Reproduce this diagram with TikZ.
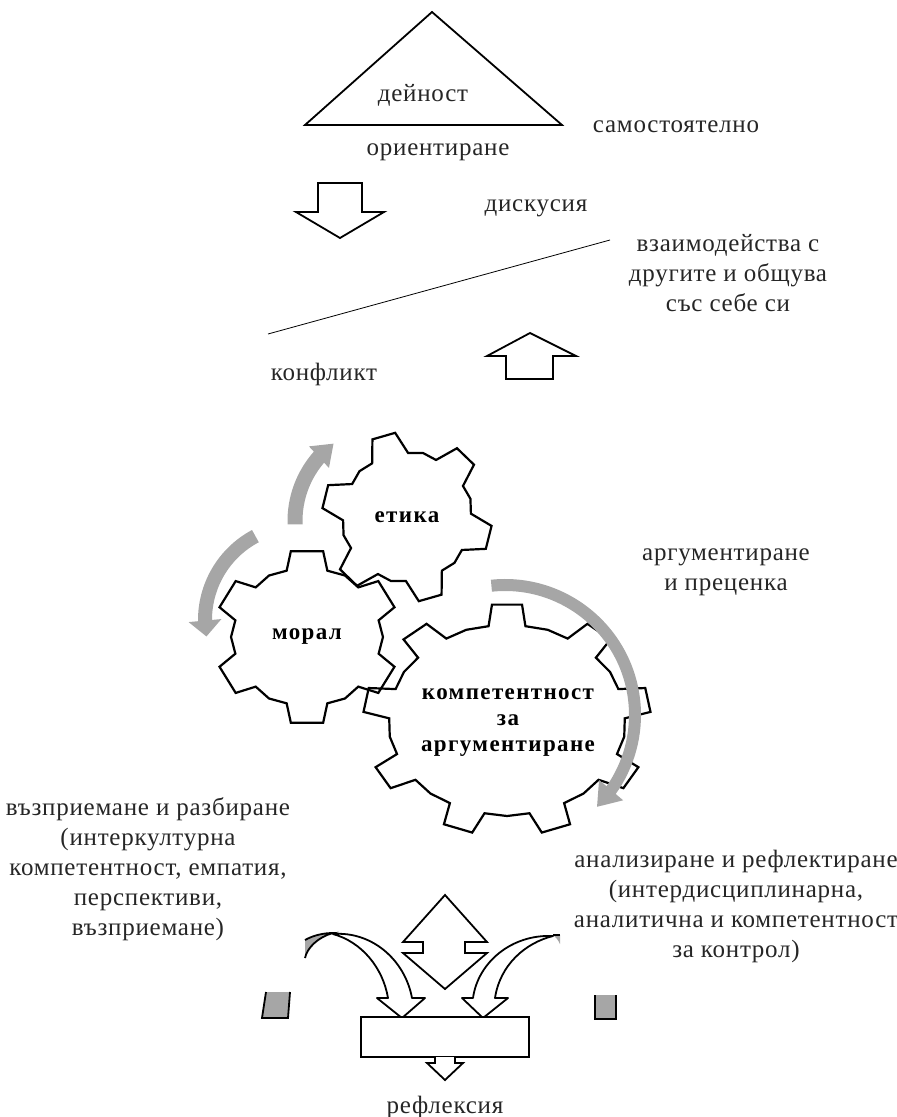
\documentclass[tikz,border=0pt]{standalone}
\usepackage{fontspec}
\setmainfont{Liberation Serif}
\usetikzlibrary{arrows.meta,bending}
\definecolor{arrgray}{HTML}{A6A6A6}
\definecolor{txtc}{HTML}{262626}
\begin{document}
\begin{tikzpicture}[x=1pt,y=-1pt,
  txt/.style={font=\fontsize{25}{30}\selectfont\addfontfeatures{LetterSpace=3}, text=txtc, inner sep=0pt, align=center},
  btxt/.style={font=\fontsize{23}{26}\selectfont\bfseries\addfontfeatures{LetterSpace=6}, text=black, inner sep=0pt, align=center},
  outl/.style={draw=black, line width=1.8pt, line join=miter, fill=white},
  gearline/.style={draw=black, line width=2.2pt, line join=miter},
  grayarr/.style={draw=arrgray, line width=#1},
  grayfill/.style={fill=arrgray, draw=black, line width=1.8pt}
]
\useasboundingbox (0,0) rectangle (897,1117);

% triangle
\draw[outl] (432,12) -- (562,125) -- (305,125) -- cycle;
\node[txt] (deinost) at (423,95) {дейност};
\node[txt] (orient) at (438,152) {ориентиране};
\node[txt] (samost) at (676,127) {самостоятелно};

% down arrow
\draw[outl] (318,183) -- (362,183) -- (362,212) -- (384,212) -- (340,238) -- (296,212) -- (318,212) -- cycle;
\node[txt] (disk) at (536,208) {дискусия};

% diagonal line
\coordinate (dl1) at (268,334);
\coordinate (dl2) at (610,240);
\draw[line width=0.8pt] (dl1) -- (dl2);
\node[txt] (vzaim) at (728,273) {взаимодейства с\\другите и общува\\със себе си};

% up arrow
\draw[outl] (506,379) -- (553,379) -- (553,356) -- (576,356) -- (530,333) -- (487,356) -- (506,356) -- cycle;
\node[txt] (konfl) at (324,374) {конфликт};

% gears
\draw[gearline, shift={(407,517)}] ({-14-17}:64pt)
  \foreach \k in {0,...,5} { -- ({-14+\k*60-17}:64pt) -- ({-14+\k*60-8}:85pt) -- ({-14+\k*60+8}:85pt) -- ({-14+\k*60+17}:64pt) -- ({-14+\k*60+30}:66pt) } -- cycle;
\draw[gearline, shift={(307,637)}, xscale=1.07] ({30-16}:69pt)
  \foreach \k in {0,...,5} { -- ({30+\k*60-16}:69pt) -- ({30+\k*60-10}:87pt) -- ({30+\k*60+10}:87pt) -- ({30+\k*60+16}:69pt) -- ({30+\k*60+30}:71pt) } -- cycle;
\draw[gearline, shift={(507,720)}, xscale=1.24] ({10-9}:95pt)
  \foreach \k in {0,...,8} { -- ({10+\k*40-9}:95pt) -- ({10+\k*40-6}:116pt) -- ({10+\k*40+6}:116pt) -- ({10+\k*40+9}:95pt) -- ({10+\k*40+20}:96pt) } -- cycle;

\node[btxt] (etika) at (407,517) {етика};
\node[btxt] (moral) at (307,637) {морал};
\node[btxt] (komp) at (508,723) {компетентност\\за\\аргументиране};

% gray circular arrows
\draw[grayarr=15pt, -{Triangle[length=20pt,width=28pt]}] ([shift={(182:97pt)}]392,521) arc[start angle=182, end angle=127, radius=97pt];
\draw[grayarr=14pt, -{Triangle[length=16pt,width=32pt]}] ([shift={(118:95pt)}]300,620) arc[start angle=118, end angle=190, radius=95pt];
\draw[grayarr=12pt, -{Triangle[length=22pt,width=30pt]}] ([shift={(96:130pt)}]505,715) arc[start angle=96, end angle=-45, radius=130pt];

\node[txt] (argum) at (726,572) {аргументиране\\и преценка};
\node[txt] (vazpr) at (148,869) {възприемане и разбиране\\(интеркултурна\\компетентност, емпатия,\\перспективи,\\възприемане)};
\node[txt] (anal) at (736,906) {анализиране и рефлектиране\\(интердисциплинарна,\\аналитична и компетентност\\за контрол)};

% bottom double arrow
\draw[outl] (445,895) -- (487,942) -- (465,942) -- (465,953) -- (487,953) -- (445,989) -- (403,953) -- (423,953) -- (423,942) -- (403,942) -- cycle;

% left curved arrow
\draw[outl, line join=round] (412,998) -- (425,998) -- (402,1018) -- (377,998) -- (388,998)
  .. controls (383,968) and (362,942) .. (333,934)
  .. controls (372,931) and (405,960) .. (412,998) -- cycle;
\path[fill=arrgray] (305,940) .. controls (314,935) and (324,933) .. (333,933) .. controls (318,937) and (307,948) .. (305,958) -- cycle;
\draw[line width=1.8pt] (305,940) .. controls (314,935) and (324,933) .. (333,933) .. controls (318,937) and (307,948) .. (305,958);

% right curved arrow
\draw[outl, line join=round] (473,998) -- (462,998) -- (483,1018) -- (508,998) -- (495,998)
  .. controls (500,965) and (525,943) .. (553,936)
  .. controls (512,934) and (478,962) .. (473,998) -- cycle;
\path[fill=arrgray] (553,935) -- (560,935) -- (560,944) .. controls (558,940) and (556,937) .. (553,935);
\draw[line width=1.8pt] (553,935) -- (560,935);

% small gray blocks
\path[fill=arrgray] (266,992) -- (262,1018) -- (288,1018) -- (290,992) -- cycle;
\draw[line width=1.8pt] (266,992) -- (262,1018) -- (288,1018) -- (290,992);
\path[fill=arrgray] (595,995) -- (595,1019) -- (616,1019) -- (616,995) -- cycle;
\draw[line width=1.8pt] (595,995) -- (595,1019) -- (616,1019) -- (616,995);

% rectangle and small arrow
\draw[outl] (361,1017) rectangle (529,1057);
\draw[outl] (435,1057) -- (435,1063) -- (427,1063) -- (445,1080) -- (463,1063) -- (455,1063) -- (455,1057);
\node[txt] (refl) at (445,1107) {рефлексия};
\end{tikzpicture}
\end{document}
